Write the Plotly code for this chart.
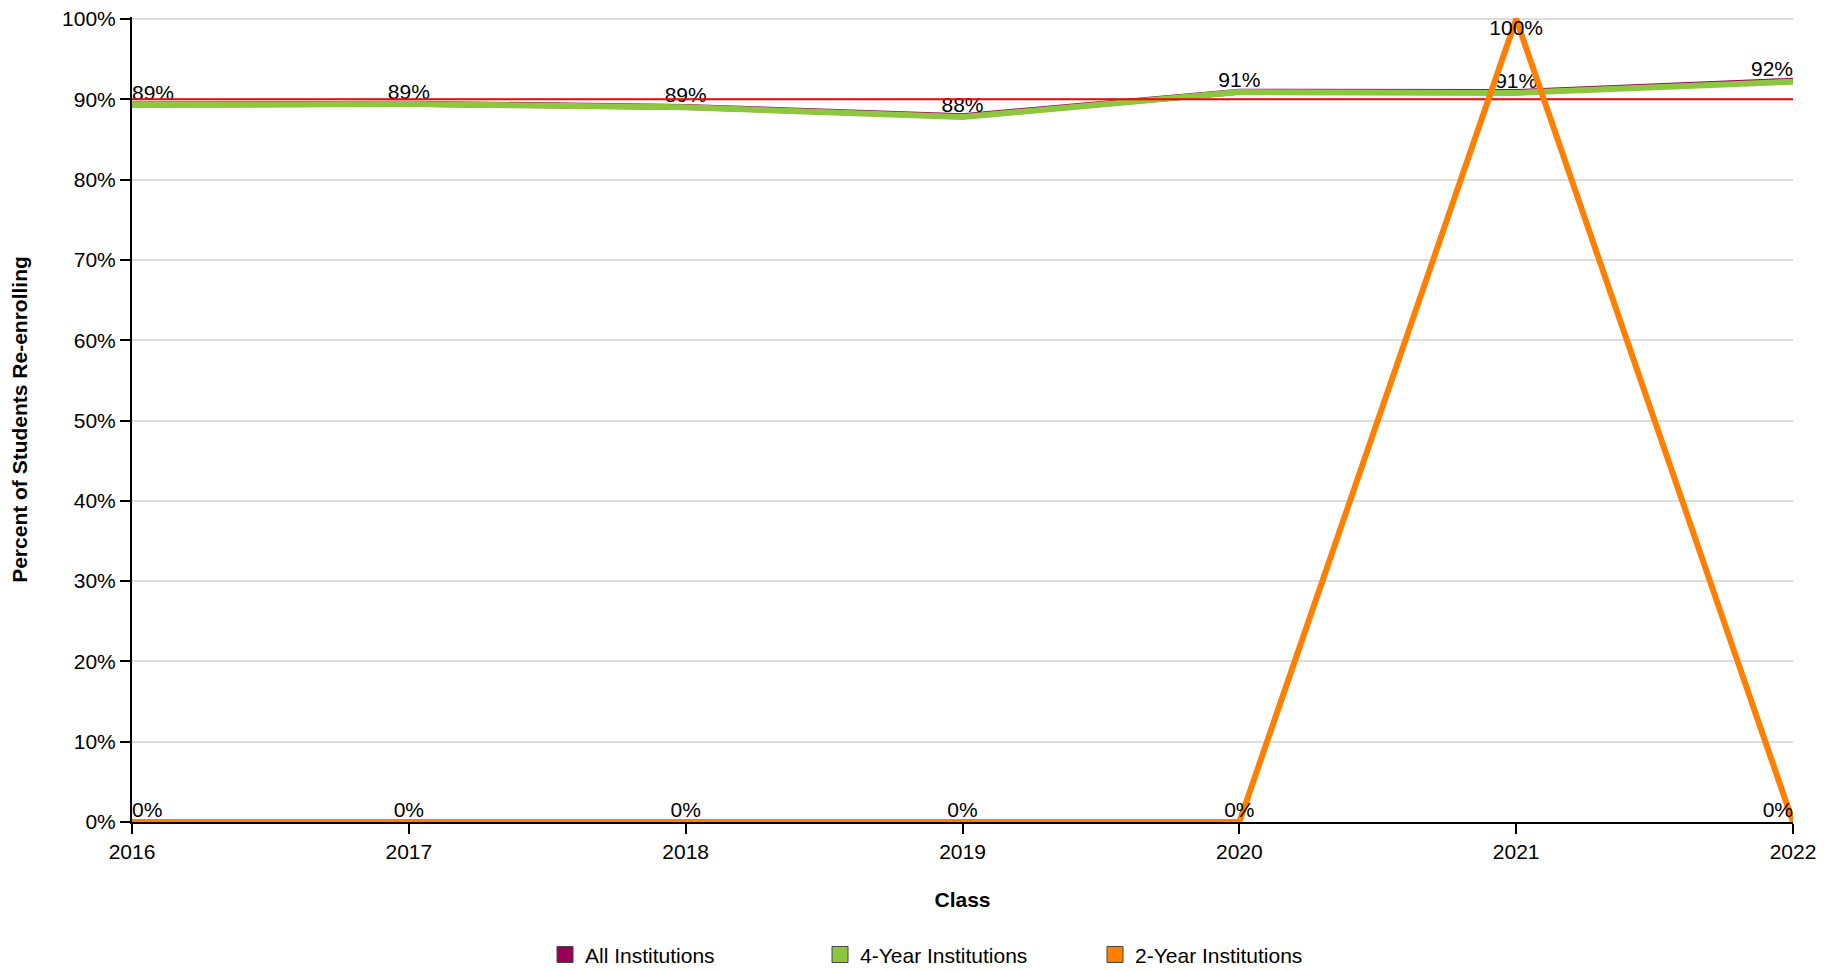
import plotly.graph_objects as go

years = [2016, 2017, 2018, 2019, 2020, 2021, 2022]
all_inst = [89.35, 89.45, 89.05, 87.9, 90.95, 90.9, 92.3]
four_year = [89.3, 89.4, 89.0, 87.8, 90.9, 90.8, 92.2]
two_year = [0, 0, 0, 0, 0, 100, 0]
target = 90
series_names = ["All Institutions", "4-Year Institutions", "2-Year Institutions"]
colors = ["#990055", "#8dc63f", "#ff8000"]

FONT = "Liberation Sans, Arial, Helvetica, sans-serif"


def labels(vals):
    return [f"{round(v)}%" for v in vals]


def positions(vals):
    pos = []
    for i, v in enumerate(vals):
        vert = "bottom" if v >= 97 else "top"
        if i == 0:
            hor = "right"
        elif i == len(vals) - 1:
            hor = "left"
        else:
            hor = "center"
        pos.append(f"{vert} {hor}")
    return pos


fig = go.Figure()

# All institutions (underneath)
fig.add_trace(go.Scatter(x=years, y=all_inst, mode="lines", name=series_names[0],
                         line=dict(color=colors[0], width=6), showlegend=False,
                         cliponaxis=False))
# 4-year
fig.add_trace(go.Scatter(x=years, y=four_year, mode="lines+text", name=series_names[1],
                         line=dict(color=colors[1], width=6), showlegend=False,
                         text=labels(four_year), textposition=positions(four_year),
                         textfont=dict(family=FONT, size=21, color="black"),
                         cliponaxis=False))
# target line
fig.add_trace(go.Scatter(x=[years[0], years[-1]], y=[target, target], mode="lines",
                         line=dict(color="#ff0000", width=2), showlegend=False,
                         hoverinfo="skip"))
# 2-year
fig.add_trace(go.Scatter(x=years, y=two_year, mode="lines+text", name=series_names[2],
                         line=dict(color=colors[2], width=6), showlegend=False,
                         text=labels(two_year), textposition=positions(two_year),
                         textfont=dict(family=FONT, size=21, color="black"),
                         cliponaxis=False))

# legend entries with square swatches
for name, c in zip(series_names, colors):
    fig.add_trace(go.Scatter(x=[None], y=[None], mode="markers", name=name,
                             marker=dict(symbol="square", size=16, color=c,
                                         line=dict(color="#444444", width=1))))

fig.update_layout(
    width=1837, height=971,
    margin=dict(l=124, r=52, t=9, b=157, autoexpand=False),
    paper_bgcolor="white", plot_bgcolor="white",
    font=dict(family=FONT, size=21, color="black"),
    showlegend=True,
    legend=dict(orientation="h", x=0.497, xanchor="center", y=-0.165, yanchor="middle",
                font=dict(family=FONT, size=21, color="black"),
                entrywidth=230, entrywidthmode="pixels", traceorder="normal"),
    xaxis=dict(range=[years[0], years[-1]], tickmode="array", tickvals=years,
               ticktext=[str(y) for y in years],
               showline=True, linecolor="black", linewidth=2,
               ticks="outside", ticklen=10, tickwidth=2, tickcolor="black",
               showgrid=False, zeroline=False, ticklabeloverflow="allow",
               tickfont=dict(family=FONT, size=21, color="black"),
               title=dict(text="<b>Class</b>", standoff=30,
                          font=dict(family=FONT, size=21, color="black"))),
    yaxis=dict(range=[0, 100.25], tickmode="array", tickvals=list(range(0, 101, 10)),
               ticktext=[f"{v}%" for v in range(0, 101, 10)],
               showline=True, linecolor="black", linewidth=2,
               ticks="outside", ticklen=10, tickwidth=2, tickcolor="black",
               showgrid=True, gridcolor="#dddddd", gridwidth=2, zeroline=False,
               ticklabeloverflow="allow",
               tickfont=dict(family=FONT, size=21, color="black"),
               title=dict(text="<b>Percent of Students Re-enrolling</b>", standoff=34,
                          font=dict(family=FONT, size=21, color="black"))),
)

fig.write_html("out.html")
